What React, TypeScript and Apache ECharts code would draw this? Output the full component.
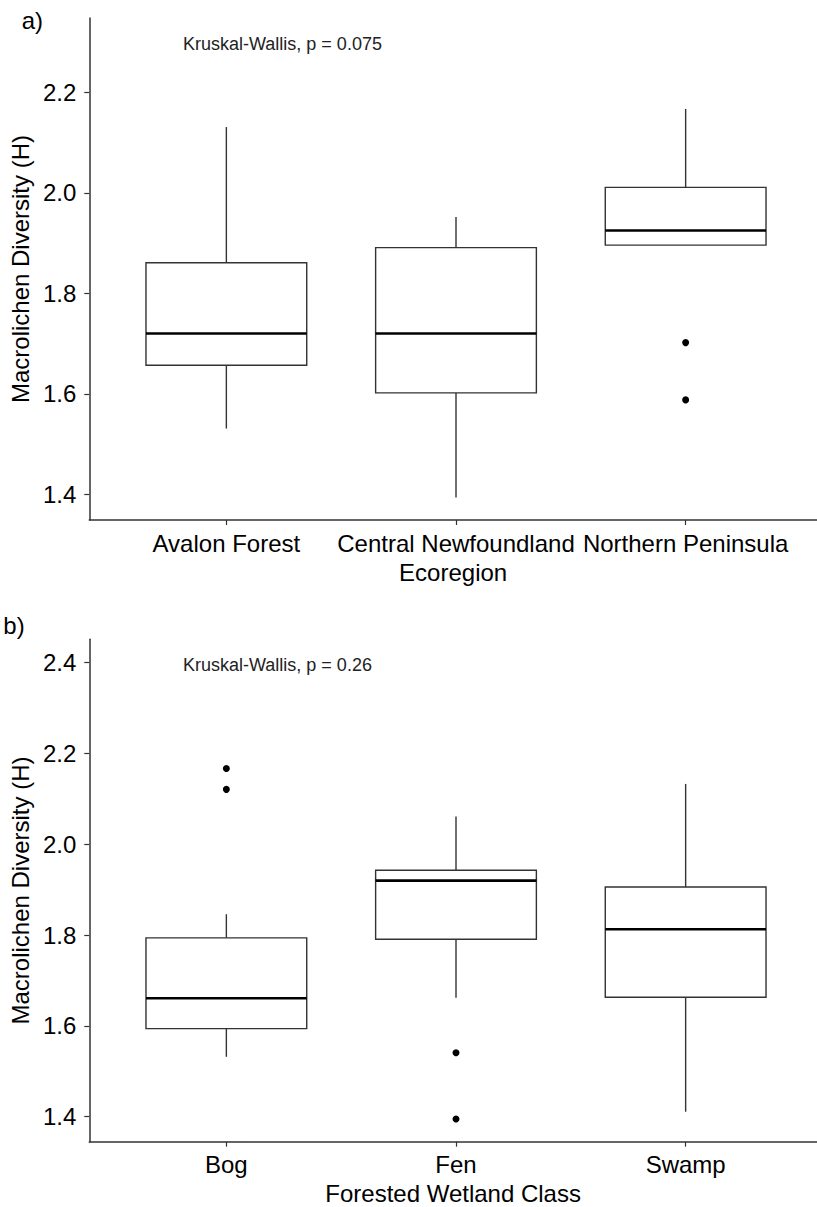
import React, { useEffect, useRef } from "react";
import * as echarts from "echarts";

// ---------- Panel a: Ecoregion ----------
const ecoCategories = ["Avalon Forest", "Central Newfoundland", "Northern Peninsula"];
const ecoWhiskerLow = [1.531, 1.394, 1.896];
const ecoQ1 = [1.657, 1.602, 1.896];
const ecoMedian = [1.72, 1.72, 1.925];
const ecoQ3 = [1.861, 1.891, 2.011];
const ecoWhiskerHigh = [2.131, 1.952, 2.167];
const ecoOutliers: [number, number][] = [
  [3, 1.702],
  [3, 1.588],
];
const ecoTicks = [1.4, 1.6, 1.8, 2.0, 2.2];
const ecoLabel = "Kruskal-Wallis, p = 0.075";

// ---------- Panel b: Forested Wetland Class ----------
const wetCategories = ["Bog", "Fen", "Swamp"];
const wetWhiskerLow = [1.532, 1.662, 1.411];
const wetQ1 = [1.594, 1.791, 1.663];
const wetMedian = [1.661, 1.92, 1.813];
const wetQ3 = [1.794, 1.943, 1.906];
const wetWhiskerHigh = [1.846, 2.061, 2.133];
const wetOutliers: [number, number][] = [
  [1, 2.167],
  [1, 2.121],
  [2, 1.541],
  [2, 1.395],
];
const wetTicks = [1.4, 1.6, 1.8, 2.0, 2.2, 2.4];
const wetLabel = "Kruskal-Wallis, p = 0.26";

const FONT = "'Liberation Sans', Arial, Helvetica, sans-serif";
const AXIS_COLOR = "#333333";
const BOX_COLOR = "#333333";

function boxData(lo: number[], q1: number[], med: number[], q3: number[], hi: number[]) {
  return lo.map((_, i) => [i + 1, lo[i], q1[i], med[i], q3[i], hi[i]]);
}

const renderBox = (params: any, api: any) => {
  const x = api.value(0);
  const lo = api.coord([x, api.value(1)]);
  const q1 = api.coord([x, api.value(2)]);
  const med = api.coord([x, api.value(3)]);
  const q3 = api.coord([x, api.value(4)]);
  const hi = api.coord([x, api.value(5)]);
  const w = api.size([0.7, 0])[0];
  const lineStyle = { stroke: BOX_COLOR, lineWidth: 1.4, fill: null };
  return {
    type: "group",
    children: [
      { type: "line", shape: { x1: hi[0], y1: hi[1], x2: q3[0], y2: q3[1] }, style: lineStyle },
      { type: "line", shape: { x1: q1[0], y1: q1[1], x2: lo[0], y2: lo[1] }, style: lineStyle },
      {
        type: "rect",
        shape: { x: q3[0] - w / 2, y: q3[1], width: w, height: q1[1] - q3[1] },
        style: { fill: "#ffffff", stroke: BOX_COLOR, lineWidth: 1.4 },
      },
      {
        type: "line",
        shape: { x1: med[0] - w / 2, y1: med[1], x2: med[0] + w / 2, y2: med[1] },
        style: { stroke: "#000000", lineWidth: 2.6 },
      },
    ],
  };
};

function xAxisFor(gridIndex: number, cats: string[], name: string) {
  return {
    type: "value",
    gridIndex,
    min: 0.403,
    max: 3.572,
    name,
    nameLocation: "middle",
    nameGap: 40,
    nameTextStyle: { fontFamily: FONT, fontSize: 24, color: "#000", lineHeight: 24 },
    axisLine: { show: true, lineStyle: { color: AXIS_COLOR, width: 1.5 } },
    axisTick: { show: true, length: 5, customValues: [1, 2, 3], lineStyle: { color: AXIS_COLOR, width: 1.2 } },
    axisLabel: {
      show: true,
      customValues: [1, 2, 3],
      formatter: (v: number) => cats[Math.round(v) - 1] ?? "",
      fontFamily: FONT,
      fontSize: 24,
      color: "#000",
      margin: 11,
      lineHeight: 24,
    },
    splitLine: { show: false },
  };
}

function yAxisFor(gridIndex: number, min: number, max: number, ticks: number[]) {
  return {
    type: "value",
    gridIndex,
    min,
    max,
    name: "Macrolichen Diversity (H)",
    nameLocation: "middle",
    nameGap: 50,
    nameTextStyle: { fontFamily: FONT, fontSize: 24, color: "#000", lineHeight: 24 },
    axisLine: { show: true, lineStyle: { color: AXIS_COLOR, width: 1.5 } },
    axisTick: { show: true, length: 5, customValues: ticks, lineStyle: { color: AXIS_COLOR, width: 1.2 } },
    axisLabel: {
      show: true,
      customValues: ticks,
      formatter: (v: number) => v.toFixed(1),
      fontFamily: FONT,
      fontSize: 24,
      color: "#000",
      margin: 13,
    },
    splitLine: { show: false },
  };
}

export default function App() {
  const ref = useRef<HTMLDivElement>(null);

  useEffect(() => {
    if (!ref.current) return;
    const chart = echarts.init(ref.current, null, { renderer: "svg" });
    const option: any = {
      animation: false,
      backgroundColor: "#ffffff",
      grid: [
        { left: 85, right: 0, top: 18, bottom: 1207 - 520 },
        { left: 85, right: 0, top: 639.3, bottom: 1207 - 1141.7 },
      ],
      xAxis: [xAxisFor(0, ecoCategories, "Ecoregion"), xAxisFor(1, wetCategories, "Forested Wetland Class")],
      yAxis: [yAxisFor(0, 1.349, 2.348, ecoTicks), yAxisFor(1, 1.345, 2.4515, wetTicks)],
      series: [
        {
          type: "custom",
          xAxisIndex: 0,
          yAxisIndex: 0,
          renderItem: renderBox,
          encode: { x: 0, y: [1, 2, 3, 4, 5] },
          data: boxData(ecoWhiskerLow, ecoQ1, ecoMedian, ecoQ3, ecoWhiskerHigh),
          z: 2,
        },
        {
          type: "scatter",
          xAxisIndex: 0,
          yAxisIndex: 0,
          symbol: "circle",
          symbolSize: 7,
          itemStyle: { color: "#000", opacity: 1 },
          data: ecoOutliers,
          z: 3,
        },
        {
          type: "custom",
          xAxisIndex: 1,
          yAxisIndex: 1,
          renderItem: renderBox,
          encode: { x: 0, y: [1, 2, 3, 4, 5] },
          data: boxData(wetWhiskerLow, wetQ1, wetMedian, wetQ3, wetWhiskerHigh),
          z: 2,
        },
        {
          type: "scatter",
          xAxisIndex: 1,
          yAxisIndex: 1,
          symbol: "circle",
          symbolSize: 7,
          itemStyle: { color: "#000", opacity: 1 },
          data: wetOutliers,
          z: 3,
        },
      ],
      graphic: [
        {
          type: "text",
          left: 21.7,
          top: 8,
          style: { text: "a)", font: `24px ${FONT}`, fill: "#000" },
        },
        {
          type: "text",
          left: 3.3,
          top: 613,
          style: { text: "b)", font: `24px ${FONT}`, fill: "#000" },
        },
        {
          type: "text",
          left: 183,
          top: 35,
          style: { text: ecoLabel, font: `18px ${FONT}`, fill: "#222" },
        },
        {
          type: "text",
          left: 183,
          top: 656,
          style: { text: wetLabel, font: `18px ${FONT}`, fill: "#222" },
        },
      ],
    };
    chart.setOption(option);
    return () => chart.dispose();
  }, []);

  return (
    <div
      ref={ref}
      style={{ position: "absolute", left: 0, top: 0, width: 817, height: 1207, background: "#fff" }}
    />
  );
}
